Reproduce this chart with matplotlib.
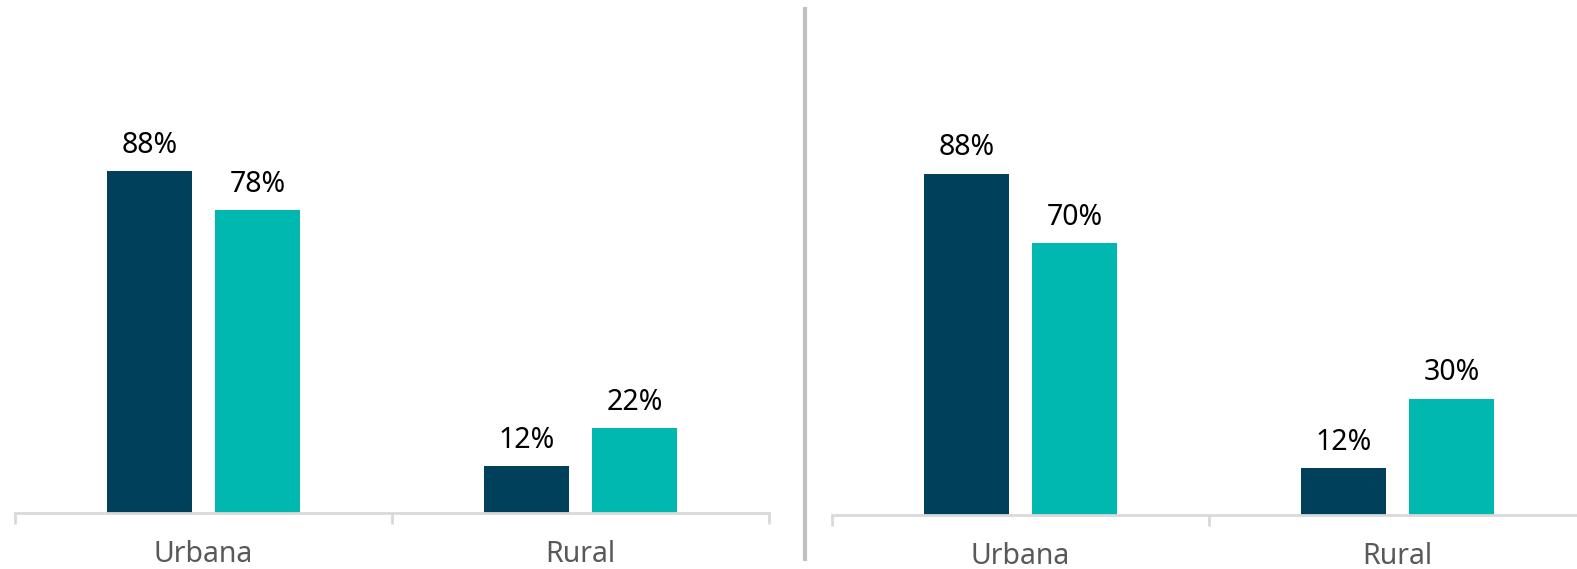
import matplotlib
matplotlib.use("Agg")
import matplotlib.pyplot as plt
from matplotlib.lines import Line2D
import numpy as np

categories = ["Urbana", "Rural"]
left_series_a = [88, 12]
left_series_b = [78, 22]
right_series_a = [88, 12]
right_series_b = [70, 30]

dark = "#00405A"
teal = "#00B8B0"

plt.rcParams['font.family'] = ['Noto Sans', 'DejaVu Sans']

W, H = 1577, 569
fig = plt.figure(figsize=(W/100, H/100), dpi=100)

def make_panel(x0, base_y, a_vals, b_vals):
    ax = fig.add_axes([x0/W, (H-base_y)/H, 754/W, base_y/H])
    x = np.arange(len(categories)) + 0.5
    bw = 0.225
    off = 0.143
    ax.bar(x-off, a_vals, width=bw, color=dark)
    ax.bar(x+off, b_vals, width=bw, color=teal)
    for xi, v in zip(x-off, a_vals):
        ax.annotate(f"{v}%", (xi, v), xytext=(0, 8), textcoords="offset points",
                    ha="center", va="bottom", fontsize=20.5, color="black")
    for xi, v in zip(x+off, b_vals):
        ax.annotate(f"{v}%", (xi, v), xytext=(0, 8), textcoords="offset points",
                    ha="center", va="bottom", fontsize=20.5, color="black")
    ax.set_xlim(0, 2)
    ax.set_ylim(0, 88*base_y/341.5)
    for s in ["top", "right", "left"]:
        ax.spines[s].set_visible(False)
    ax.spines["bottom"].set_color("#D9D9D9")
    ax.spines["bottom"].set_linewidth(2)
    ax.set_yticks([])
    ax.set_xticks([0, 1, 2])
    ax.set_xticklabels([])
    ax.tick_params(axis="x", length=8, width=2, color="#D9D9D9")
    ax.set_xticks(x, minor=True)
    ax.set_xticklabels(categories, minor=True, fontsize=20.5, color="#595959")
    ax.tick_params(axis="x", which="minor", length=0, pad=19.5)
    ax.patch.set_alpha(0)
    return ax

make_panel(15, 513, left_series_a, left_series_b)
make_panel(832, 515, right_series_a, right_series_b)

fig.add_artist(Line2D([805/W, 805/W], [1-9/H, 1-559/H], color="#C0C0C0", linewidth=3))

fig.savefig("out.png", dpi=100)
